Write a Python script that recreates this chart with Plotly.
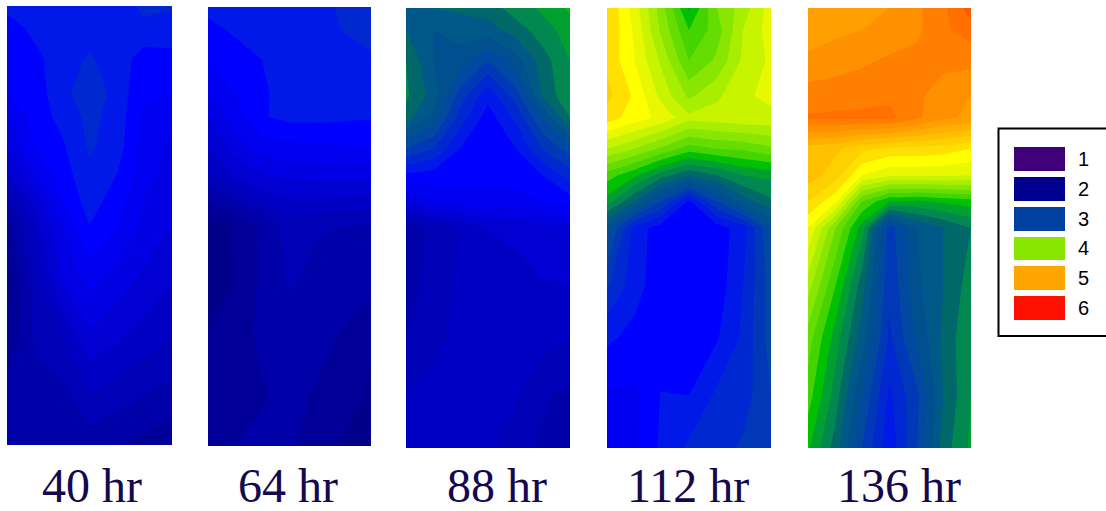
import plotly.graph_objects as go

W, H = 1106, 511

panel_labels = ["40 hr", "64 hr", "88 hr", "112 hr", "136 hr"]
x_pos = [0, 17, 33, 50, 67, 83, 100]
depth = [0, 5, 12, 20, 25, 32, 38, 44, 50, 63, 75, 88, 100]

hr40 = [
    [2.53, 2.56, 2.56, 2.56, 2.56, 2.62, 2.61],
    [2.45, 2.53, 2.56, 2.56, 2.56, 2.58, 2.56],
    [2.47, 2.47, 2.56, 2.61, 2.56, 2.45, 2.47],
    [2.40, 2.45, 2.56, 2.68, 2.557, 2.42, 2.40],
    [2.30, 2.45, 2.53, 2.63, 2.557, 2.38, 2.32],
    [2.20, 2.40, 2.48, 2.615, 2.55, 2.35, 2.28],
    [2.10, 2.30, 2.45, 2.58, 2.50, 2.35, 2.25],
    [1.90, 2.15, 2.40, 2.55, 2.45, 2.30, 2.22],
    [1.75, 2.05, 2.30, 2.50, 2.40, 2.28, 2.20],
    [1.65, 1.95, 2.20, 2.33, 2.25, 2.17, 2.10],
    [1.70, 1.92, 2.00, 2.18, 2.12, 2.06, 2.00],
    [1.83, 1.87, 1.87, 2.00, 1.96, 1.91, 1.87],
    [1.85, 1.85, 1.83, 1.84, 1.80, 1.77, 1.73],
]
hr64 = [
    [2.53, 2.56, 2.56, 2.56, 2.56, 2.62, 2.65],
    [2.47, 2.52, 2.56, 2.56, 2.56, 2.605, 2.65],
    [2.40, 2.45, 2.50, 2.56, 2.56, 2.56, 2.58],
    [2.30, 2.40, 2.48, 2.55, 2.55, 2.55, 2.55],
    [2.20, 2.35, 2.49, 2.53, 2.53, 2.52, 2.51],
    [2.10, 2.25, 2.34, 2.37, 2.38, 2.39, 2.39],
    [2.00, 2.12, 2.20, 2.23, 2.24, 2.25, 2.25],
    [1.80, 1.90, 2.02, 2.09, 2.09, 2.08, 2.07],
    [1.65, 1.71, 1.82, 1.95, 1.91, 1.90, 1.88],
    [1.60, 1.71, 1.82, 1.91, 1.87, 1.85, 1.83],
    [1.71, 1.76, 1.82, 1.86, 1.84, 1.79, 1.72],
    [1.76, 1.78, 1.79, 1.83, 1.79, 1.75, 1.68],
    [1.78, 1.80, 1.82, 1.81, 1.76, 1.69, 1.65],
]
hr88 = [
    [3.10, 3.10, 3.12, 3.15, 3.25, 3.32, 3.42],
    [3.10, 3.00, 3.05, 3.05, 3.15, 3.25, 3.35],
    [3.20, 3.00, 2.95, 2.80, 2.95, 3.15, 3.30],
    [3.22, 3.05, 2.75, 2.53, 2.75, 3.10, 3.30],
    [3.15, 2.95, 2.65, 2.45, 2.62, 2.90, 3.20],
    [2.80, 2.70, 2.50, 2.42, 2.50, 2.70, 2.85],
    [2.48, 2.45, 2.45, 2.42, 2.45, 2.50, 2.65],
    [2.20, 2.33, 2.35, 2.38, 2.35, 2.40, 2.45],
    [1.85, 1.92, 2.00, 2.10, 2.12, 2.17, 2.17],
    [1.85, 1.95, 2.02, 2.05, 2.07, 2.09, 2.10],
    [1.90, 1.97, 2.03, 2.05, 2.05, 2.04, 2.00],
    [2.00, 2.03, 2.05, 2.05, 2.01, 1.92, 1.87],
    [2.05, 2.05, 2.05, 2.02, 1.96, 1.88, 1.80],
]
hr112 = [
    [4.30, 4.05, 3.75, 3.38, 3.70, 3.85, 4.05],
    [4.30, 4.08, 3.78, 3.50, 3.65, 3.90, 4.05],
    [4.28, 4.10, 3.88, 3.60, 3.72, 3.92, 4.02],
    [4.33, 4.18, 3.97, 3.78, 3.88, 3.98, 4.03],
    [4.25, 4.15, 4.07, 3.93, 3.95, 3.97, 3.97],
    [3.90, 3.80, 3.68, 3.55, 3.60, 3.62, 3.68],
    [3.55, 3.42, 3.25, 3.12, 3.20, 3.30, 3.33],
    [3.35, 3.10, 2.80, 2.48, 2.80, 3.05, 3.18],
    [2.95, 2.55, 2.45, 2.42, 2.45, 2.55, 2.90],
    [2.72, 2.54, 2.44, 2.42, 2.44, 2.60, 2.85],
    [2.52, 2.47, 2.43, 2.42, 2.49, 2.62, 2.85],
    [2.39, 2.38, 2.505, 2.50, 2.62, 2.65, 2.80],
    [2.30, 2.38, 2.52, 2.62, 2.65, 2.72, 2.80],
]
hr136 = [
    [4.62, 4.63, 4.65, 4.70, 4.78, 4.88, 5.05],
    [4.65, 4.68, 4.70, 4.72, 4.78, 4.88, 4.95],
    [4.72, 4.75, 4.78, 4.82, 4.83, 4.83, 4.83],
    [4.85, 4.86, 4.87, 4.88, 4.82, 4.75, 4.70],
    [4.91, 4.92, 4.92, 4.93, 4.82, 4.72, 4.68],
    [4.45, 4.42, 4.33, 4.27, 4.27, 4.25, 4.20],
    [4.45, 4.35, 4.10, 4.02, 4.02, 4.02, 4.00],
    [4.30, 4.12, 3.60, 3.40, 3.38, 3.42, 3.45],
    [4.10, 3.70, 3.35, 2.75, 3.00, 3.10, 3.20],
    [3.85, 3.50, 3.15, 2.72, 2.98, 3.10, 3.25],
    [3.65, 3.35, 3.05, 2.68, 2.92, 3.12, 3.30],
    [3.55, 3.25, 2.90, 2.58, 2.78, 3.10, 3.30],
    [3.42, 3.15, 2.80, 2.53, 2.80, 3.15, 3.32],
]
panels = [hr40, hr64, hr88, hr112, hr136]

legend_values = [1, 2, 3, 4, 5, 6]
legend_colors = ["#400078", "#000090", "#0040a0", "#88e600", "#ffa500", "#ff1000"]

band_values = [1.0, 1.55, 2.45, 2.55, 2.65, 2.75, 2.85, 2.95, 3.05, 3.15, 3.25, 3.35, 3.45,
               3.55, 3.65, 3.75, 3.85, 3.95, 4.05, 4.15, 4.25, 4.35, 4.45, 4.55, 4.65,
               4.75, 4.85, 4.95, 5.05, 6.0]
band_colors = ["#00007c", "#00007c", "#0000ff", "#0018e8", "#0028d0", "#0038b8", "#0048a0", "#005090",
               "#005888", "#006868", "#008850", "#00a030", "#00c000", "#44d400", "#66dd00",
               "#88e600", "#a8ee00", "#c8f400", "#e8f800", "#ffff00", "#ffe000", "#ffd000",
               "#ffc000", "#ffb000", "#ffa000", "#ff9000", "#ff8000", "#ff7000", "#ff5800", "#ff1000"]
colorscale = [[(v - 1) / 5, c] for v, c in zip(band_values, band_colors)]

# pixel rectangles of the panels: left, right, top, bottom
rects = [(7, 172, 6, 445), (208, 371, 7, 446), (406, 570, 8, 448), (607, 771, 8, 448), (808, 971, 8, 448)]
label_centres = [92, 288, 497, 688, 899]

fig = go.Figure()
layout = dict(
    width=W, height=H, margin=dict(l=0, r=0, t=0, b=0),
    paper_bgcolor="white", plot_bgcolor="white", showlegend=False,
)
annotations = []
for i, (z, r) in enumerate(zip(panels, rects)):
    n = i + 1
    fig.add_trace(go.Contour(
        x=x_pos, y=depth, z=z, xaxis=f"x{n}", yaxis=f"y{n}",
        colorscale=colorscale, zmin=1, zmax=6, showscale=False, autocontour=False,
        contours=dict(start=1.0, end=6.0, size=0.1, coloring="fill", showlines=False),
        line=dict(width=0, smoothing=0), hoverinfo="skip",
    ))
    layout[f"xaxis{n}"] = dict(domain=[r[0] / W, r[1] / W], range=[0, 100], visible=False, anchor=f"y{n}")
    layout[f"yaxis{n}"] = dict(domain=[1 - r[3] / H, 1 - r[2] / H], range=[100, 0], visible=False, anchor=f"x{n}")
    annotations.append(dict(
        text=panel_labels[i], x=label_centres[i] / W, y=0.0, xref="paper", yref="paper",
        xanchor="center", yanchor="bottom", yshift=-3, showarrow=False,
        font=dict(family="Liberation Serif", size=48, color="#14084f"),
    ))

# legend: a small one-column heatmap with its own axis for the labels
fig.add_trace(go.Heatmap(
    z=[[v] for v in legend_values], y=[str(v) for v in legend_values], x=["key"],
    xaxis="x6", yaxis="y6", zmin=1, zmax=6, ygap=6, showscale=False, hoverinfo="skip",
    colorscale=[[(v - 1) / 5, c] for v, c in zip(legend_values, legend_colors)],
))
layout["xaxis6"] = dict(domain=[1014 / W, 1065 / W], visible=False, anchor="y6")
layout["yaxis6"] = dict(
    domain=[1 - 323 / H, 1 - 144 / H], anchor="x6", side="right", autorange="reversed", type="category",
    showgrid=False, zeroline=False, showline=False, ticks="", ticklabelstandoff=12,
    tickfont=dict(family="Liberation Sans", size=20, color="black"),
)
layout["annotations"] = annotations
layout["shapes"] = [dict(
    type="rect", xref="paper", yref="paper", x0=998.5 / W, x1=1110 / W, y0=1 - 336 / H, y1=1 - 128.5 / H,
    line=dict(color="black", width=2), fillcolor="rgba(0,0,0,0)", layer="below",
)]
fig.update_layout(**layout)
fig.write_html("out.html", config={"displayModeBar": False},
               post_script="document.body.style.margin='0';document.body.style.overflow='hidden';")
